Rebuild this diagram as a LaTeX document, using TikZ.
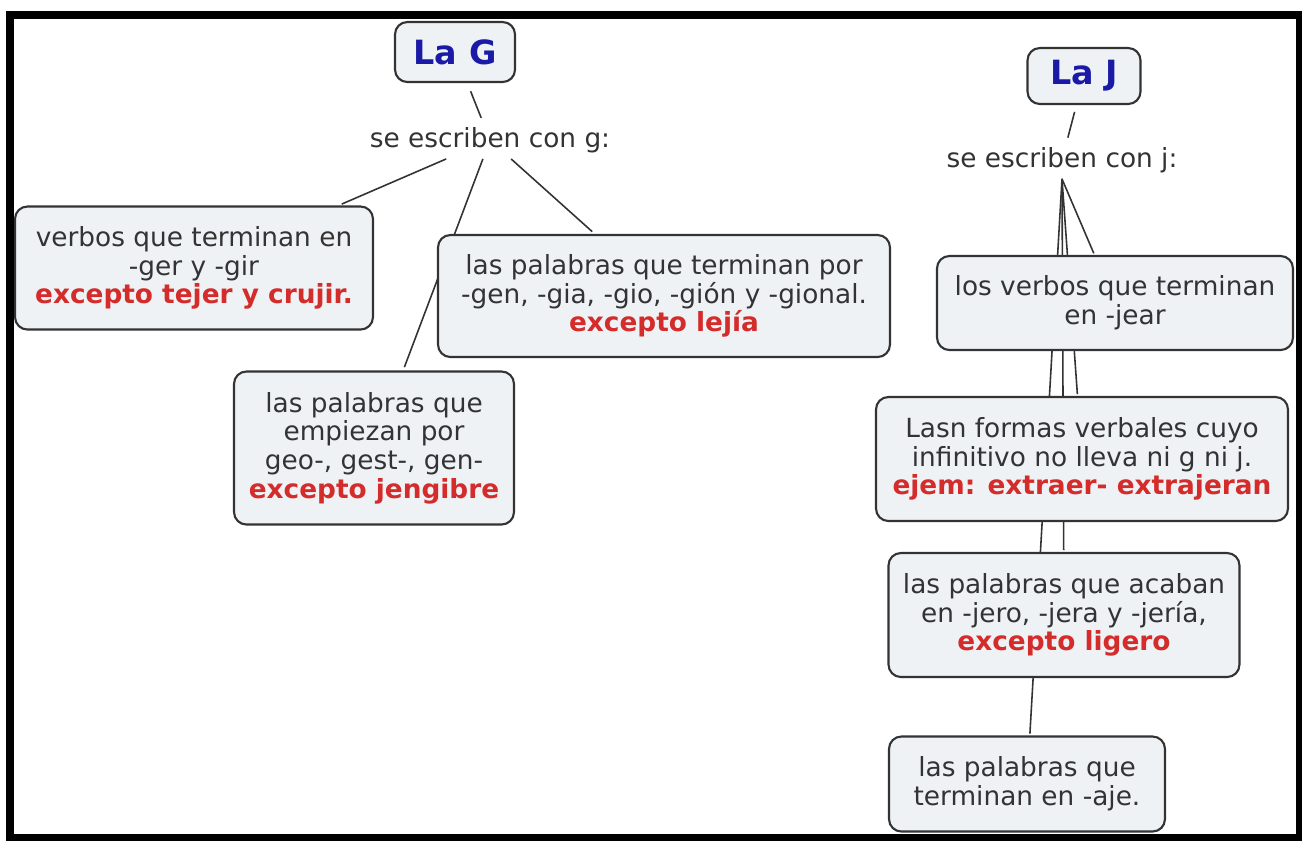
\documentclass[tikz,border=0pt]{standalone}
\usepackage{fontspec}
\setmainfont{DejaVu Sans}
\usepackage{tikz}
\usetikzlibrary{positioning, backgrounds}
\definecolor{boxfill}{HTML}{EEF2F5}
\definecolor{titleblue}{HTML}{1A1AA6}
\definecolor{exred}{HTML}{D42B2B}
\definecolor{txtgray}{HTML}{333333}
\newcommand{\excepto}[1]{\textbf{\color{exred}#1}}

\begin{document}
\begin{tikzpicture}[
    x=0.02cm, y=-0.02cm,
    concept/.style={draw=black!80, line width=1.2pt, rounded corners=7pt, fill=boxfill, align=center, text=txtgray, font=\fontsize{15}{16.3}\selectfont, inner sep=2pt},
    title/.style={concept, text=titleblue, font=\fontsize{19}{22}\selectfont\bfseries},
    hub/.style={align=center, text=txtgray, font=\fontsize{15}{16.3}\selectfont},
    link/.style={draw=black!80, line width=0.9pt, shorten >=2pt},
    ]
    \useasboundingbox (0,0) rectangle (1302,840);

    % La G (left)
    \node[title, minimum width=2.4cm, minimum height=1.2cm] (lag) at (455,52) {La G};
    \node[hub] (hubg) at (490,140) {se escriben con g:};
    \node[concept, minimum width=7.16cm, minimum height=2.46cm] (verbos) at (194,268) {verbos que terminan en\\-ger y -gir\\\excepto{excepto tejer y crujir.}};
    \node[concept, minimum width=9.04cm, minimum height=2.44cm] (gen) at (664,296) {las palabras que terminan por\\-gen, -gia, -gio, -gión y -gional.\\\excepto{excepto lejía}};
    \node[concept, minimum width=5.6cm, minimum height=3.06cm] (geo) at (374,448) {las palabras que\\empiezan por\\geo-, gest-, gen-\\\excepto{excepto jengibre}};

    % La J (right)
    \node[title, minimum width=2.26cm, minimum height=1.12cm] (laj) at (1084,76) {La J};
    \node[hub] (hubj) at (1062,160) {se escriben con j:};
    \node[concept, minimum width=7.12cm, minimum height=1.88cm] (jear) at (1115,303) {los verbos que terminan\\en -jear};
    \node[concept, minimum width=8.24cm, minimum height=2.48cm] (lasn) at (1082,459) {Lasn formas verbales cuyo\\infinitivo no lleva ni g ni j.\\\excepto{ejem: extraer- extrajeran}};
    \node[concept, minimum width=7.02cm, minimum height=2.48cm] (jero) at (1064,615) {las palabras que acaban\\en -jero, -jera y -jería,\\\excepto{excepto ligero}};
    \node[concept, minimum width=5.52cm, minimum height=1.9cm] (aje) at (1027,784) {las palabras que\\terminan en -aje.};

    % links (behind the boxes)
    \begin{scope}[on background layer]
        \fill[white] (0,0) rectangle (1302,840);
        \draw[link, shorten <=5pt] (lag) -- (hubg);
        \draw[link] (hubg) -- (verbos);
        \draw[link] (hubg) -- (geo);
        \draw[link] (hubg) -- (gen);
        \draw[link, shorten <=4pt] (laj) -- (hubj);
        \foreach \target in {jear, lasn, jero, aje}
            \draw[link, shorten >=1pt] (hubj.south) -- (\target);
    \end{scope}

    % frame
    \draw[line width=0.16cm] (10,15) rectangle (1300,838);
\end{tikzpicture}
\end{document}
